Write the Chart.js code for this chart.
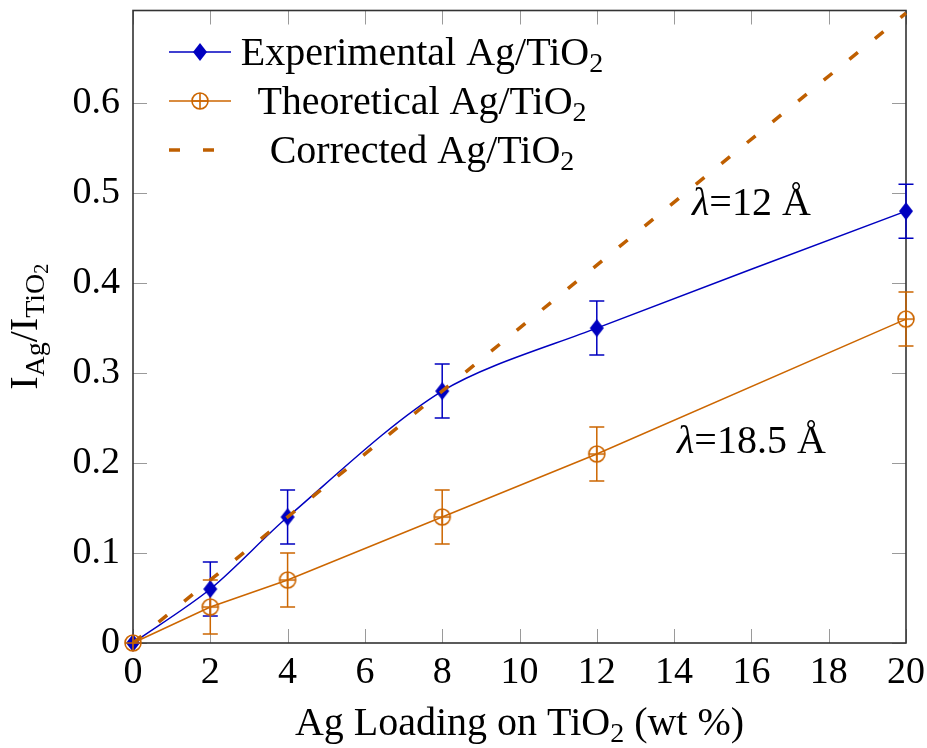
<!DOCTYPE html>
<html>
<head>
<meta charset="utf-8">
<script src="https://cdn.jsdelivr.net/npm/chart.js@4"></script>
<style>
  html, body { margin: 0; padding: 0; background: #fff; }
  #wrap { width: 927px; height: 748px; }
</style>
</head>
<body>
<div id="wrap"><canvas id="grafico" width="927" height="748"></canvas></div>
<script>
// valores
const loading = [0, 2, 4, 8, 12, 20];
const experimental = [0, 0.06, 0.14, 0.28, 0.35, 0.48];
const expError = [0, 0.03, 0.03, 0.03, 0.03, 0.03];
const theoretical = [0, 0.04, 0.07, 0.14, 0.21, 0.36];
const theoError = [0, 0.03, 0.03, 0.03, 0.03, 0.03];
const correctedX = [0, 20];
const correctedY = [0, 0.7];
const xTicks = [0, 2, 4, 6, 8, 10, 12, 14, 16, 18, 20];
const yTicks = [0, 0.1, 0.2, 0.3, 0.4, 0.5, 0.6];

const BLUE = "#0000c0";
const ORANGE = "#cc6600";
const DASH = "#bf5f00";
const FONT = "'Liberation Serif', 'DejaVu Serif', serif";
const SIZE = 38;
const TSIZE = 40;

// marcadores
function diamond() {
    const c = document.createElement("canvas");
    c.width = 16; c.height = 20;
    const g = c.getContext("2d");
    g.fillStyle = BLUE;
    g.beginPath();
    g.moveTo(8, 1); g.lineTo(15, 10); g.lineTo(8, 19); g.lineTo(1, 10);
    g.closePath();
    g.fill();
    return c;
}
function oplus() {
    const c = document.createElement("canvas");
    c.width = 20; c.height = 20;
    const g = c.getContext("2d");
    g.strokeStyle = ORANGE;
    g.lineWidth = 1.6;
    g.beginPath(); g.arc(10, 10, 8, 0, Math.PI * 2); g.stroke();
    g.beginPath();
    g.moveTo(2, 10); g.lineTo(18, 10);
    g.moveTo(10, 2); g.lineTo(10, 18);
    g.stroke();
    return c;
}
const diamondImg = diamond();
const oplusImg = oplus();

// texto com subscritos
function rich(ctx, parts, x, y, align) {
    let w = 0;
    parts.forEach(p => {
        ctx.font = (p.it ? "italic " : "") + (p.s || TSIZE) + "px " + FONT;
        w += ctx.measureText(p.t).width;
    });
    let cx = align === "center" ? x - w / 2 : x;
    parts.forEach(p => {
        ctx.font = (p.it ? "italic " : "") + (p.s || TSIZE) + "px " + FONT;
        ctx.fillText(p.t, cx, y + (p.dy || 0));
        cx += ctx.measureText(p.t).width;
    });
}
const tio2 = [{t: "TiO"}, {t: "2", s: 28, dy: 7}];

const decor = {
    id: "decor",
    beforeDatasetsDraw(chart) {
        const {ctx, chartArea: a, scales: {x, y}} = chart;
        ctx.save();
        ctx.strokeStyle = "#9a9a9a";
        ctx.lineWidth = 1;
        ctx.beginPath();
        xTicks.forEach(v => {
            const px = Math.round(x.getPixelForValue(v)) + 0.5;
            ctx.moveTo(px, a.bottom); ctx.lineTo(px, a.bottom - 14);
            ctx.moveTo(px, a.top); ctx.lineTo(px, a.top + 14);
        });
        yTicks.forEach(v => {
            const py = Math.round(y.getPixelForValue(v)) + 0.5;
            ctx.moveTo(a.left, py); ctx.lineTo(a.left + 14, py);
            ctx.moveTo(a.right, py); ctx.lineTo(a.right - 14, py);
        });
        ctx.stroke();

        ctx.strokeStyle = "#333";
        ctx.lineWidth = 1.6;
        ctx.strokeRect(a.left, a.top, a.right - a.left, a.bottom - a.top);

        // barras de erro
        const bars = (vals, errs, color) => {
            ctx.strokeStyle = color;
            ctx.lineWidth = 1.5;
            ctx.beginPath();
            loading.forEach((lx, i) => {
                if (!errs[i]) return;
                const px = x.getPixelForValue(lx);
                const lo = y.getPixelForValue(vals[i] - errs[i]);
                const hi = y.getPixelForValue(vals[i] + errs[i]);
                ctx.moveTo(px, lo); ctx.lineTo(px, hi);
                ctx.moveTo(px - 7.5, lo); ctx.lineTo(px + 7.5, lo);
                ctx.moveTo(px - 7.5, hi); ctx.lineTo(px + 7.5, hi);
            });
            ctx.stroke();
        };
        bars(experimental, expError, BLUE);
        bars(theoretical, theoError, ORANGE);
        ctx.restore();
    },
    afterDraw(chart) {
        const {ctx, chartArea: a, scales: {x, y}} = chart;
        ctx.save();
        ctx.fillStyle = "#000";
        ctx.textBaseline = "alphabetic";

        // legenda
        const rows = [65, 114, 163];
        ctx.lineWidth = 1.5;
        ctx.strokeStyle = BLUE;
        ctx.beginPath(); ctx.moveTo(169, rows[0] - 13); ctx.lineTo(231, rows[0] - 13); ctx.stroke();
        ctx.drawImage(diamondImg, 200 - 8, rows[0] - 13 - 10);
        ctx.strokeStyle = ORANGE;
        ctx.beginPath(); ctx.moveTo(169, rows[1] - 13); ctx.lineTo(231, rows[1] - 13); ctx.stroke();
        ctx.drawImage(oplusImg, 200 - 10, rows[1] - 13 - 10);
        ctx.strokeStyle = DASH;
        ctx.lineWidth = 3.5;
        ctx.setLineDash([11, 23]);
        ctx.beginPath(); ctx.moveTo(169, rows[2] - 13); ctx.lineTo(231, rows[2] - 13); ctx.stroke();
        ctx.setLineDash([]);

        const names = ["Experimental Ag/", "Theoretical Ag/", "Corrected Ag/"];
        names.forEach((n, i) => rich(ctx, [{t: n}, ...tio2], 422, rows[i], "center"));

        // anotações
        rich(ctx, [{t: "λ", it: true}, {t: "=12 Å"}], x.getPixelForValue(16), y.getPixelForValue(0.49) + 13, "center");
        rich(ctx, [{t: "λ", it: true}, {t: "=18.5 Å"}], x.getPixelForValue(16), y.getPixelForValue(0.226) + 13, "center");

        // título do eixo x
        rich(ctx, [{t: "Ag Loading on "}, ...tio2, {t: " (wt %)"}], (a.left + a.right) / 2, 735, "center");

        // título do eixo y
        ctx.translate(37, (a.top + a.bottom) / 2);
        ctx.rotate(-Math.PI / 2);
        rich(ctx, [
            {t: "I"}, {t: "Ag", s: 28, dy: 7},
            {t: "/I"}, {t: "TiO", s: 28, dy: 7}, {t: "2", s: 20, dy: 11}
        ], 0, 0, "center");
        ctx.restore();
    }
};

const ctx = document.getElementById("grafico");
new Chart(ctx, {
    type: "scatter",
    data: {
        datasets: [
            {
                label: "Experimental Ag/TiO2",
                data: loading.map((v, i) => ({x: v, y: experimental[i]})),
                showLine: true,
                borderColor: BLUE,
                borderWidth: 1.5,
                tension: 0.3,
                pointStyle: diamondImg,
                pointRadius: 9,
                clip: false,
                order: 2
            },
            {
                label: "Theoretical Ag/TiO2",
                data: loading.map((v, i) => ({x: v, y: theoretical[i]})),
                showLine: true,
                borderColor: ORANGE,
                borderWidth: 1.5,
                pointStyle: oplusImg,
                pointRadius: 9,
                clip: false,
                order: 1
            },
            {
                label: "Corrected Ag/TiO2",
                data: correctedX.map((v, i) => ({x: v, y: correctedY[i]})),
                showLine: true,
                borderColor: DASH,
                borderWidth: 3.5,
                borderDash: [11, 22],
                pointRadius: 0,
                clip: false,
                order: 0
            }
        ]
    },
    options: {
        responsive: false,
        animation: false,
        devicePixelRatio: 1,
        layout: { padding: { top: 3, right: 21, left: 0, bottom: 0 } },
        plugins: { legend: { display: false }, tooltip: { enabled: false } },
        scales: {
            x: {
                type: "linear",
                min: 0,
                max: 20,
                afterBuildTicks: s => { s.ticks = xTicks.map(v => ({value: v})); },
                afterFit: s => { s.height = 105; s.paddingLeft = 0; s.paddingRight = 0; },
                grid: { display: false, drawTicks: false },
                border: { display: false },
                ticks: { padding: 7, maxRotation: 0, color: "#000", font: { family: FONT, size: SIZE }, callback: v => String(v) }
            },
            y: {
                min: 0,
                max: 0.703,
                afterBuildTicks: s => { s.ticks = yTicks.map(v => ({value: v})); },
                afterFit: s => { s.width = 133; s.paddingTop = 0; s.paddingBottom = 0; },
                grid: { display: false, drawTicks: false },
                border: { display: false },
                ticks: { padding: 13, color: "#000", font: { family: FONT, size: SIZE }, callback: v => String(v) }
            }
        }
    },
    plugins: [decor]
});
</script>
</body>
</html>
